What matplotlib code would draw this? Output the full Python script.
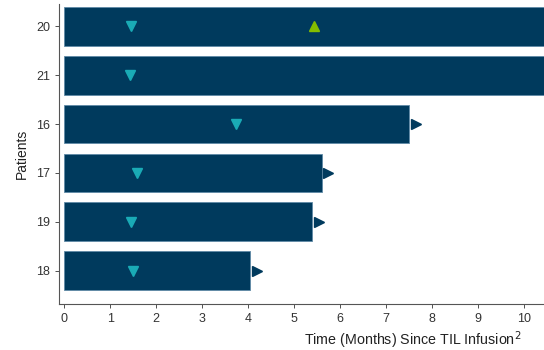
import numpy as np
import matplotlib.pyplot as plt

# ---- data ----
patients = ['18', '19', '17', '16', '21', '20']
months = [4.04, 5.39, 5.6, 7.5, 11.0, 11.0]
ongoing = [True, True, True, True, False, False]
first_resp = [1.49, 1.45, 1.58, 3.73, 1.42, 1.46]
cr_patient = '20'
cr_month = 5.43

bar_col = '#003a5d'
cyan = '#1aabb6'
green = '#84bd00'

plt.rcParams['font.family'] = ['Liberation Sans', 'DejaVu Sans']

fig = plt.figure(figsize=(5.44, 3.5), dpi=100)
ax = fig.add_axes([0.1085, 0.1306, 0.8915, 0.858])

y = np.arange(len(patients))
ax.barh(y, months, height=0.79, left=0, color=bar_col, edgecolor='#5f8aa6', linewidth=0.6)

for yi, m, on in zip(y, months, ongoing):
    if on:
        ax.plot(m + 0.14, yi, marker='>', color=bar_col, markersize=6.5, linestyle='none')

ax.plot(first_resp, y, marker='v', color=cyan, markersize=7, linestyle='none')
ax.plot(cr_month, patients.index(cr_patient), marker='^', color=green, markersize=7, linestyle='none')

ax.set_xlim(-0.115, 10.43)
ax.set_ylim(-0.69, 5.46)
ax.set_xticks(range(0, 11))
ax.set_yticks(y)
ax.set_yticklabels(patients)

for s in ['top', 'right']:
    ax.spines[s].set_visible(False)
for s in ['left', 'bottom']:
    ax.spines[s].set_color('#555555')
    ax.spines[s].set_linewidth(0.8)
ax.tick_params(axis='both', labelsize=9, colors='#333333', length=3, width=0.6)

ax.set_ylabel('Patients', fontsize=10, color='#222222', labelpad=5)
ax.set_xlabel('Time (Months) Since TIL Infusion$^2$', fontsize=10.3, color='#222222', labelpad=4)
ax.xaxis.set_label_coords(0.73, -0.085)

fig.savefig('out.png', dpi=100)
